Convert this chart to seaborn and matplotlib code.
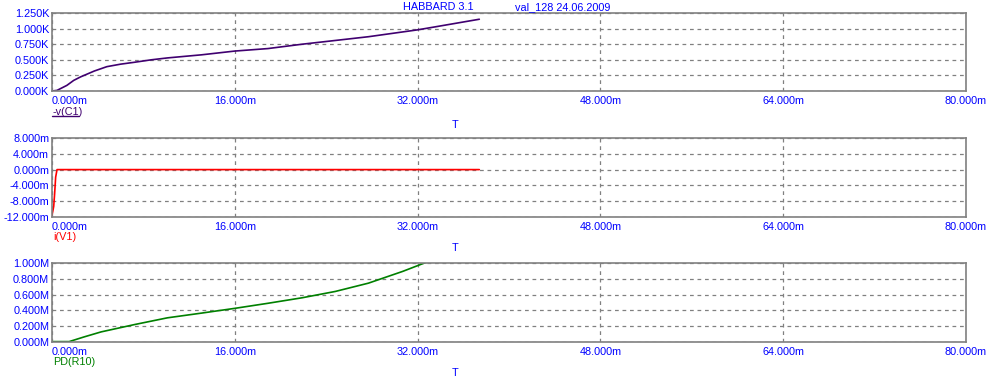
import numpy as np
import pandas as pd
import matplotlib
matplotlib.use("Agg")
import matplotlib.pyplot as plt
from matplotlib.lines import Line2D
import seaborn as sns

# ---- data (time in ms) ----
t_vc1 = [0.0, 0.44, 1.3, 1.9, 2.5, 3.7, 4.8, 6.0, 7.2, 8.7, 10.1, 13.1, 16.0, 18.9, 21.9, 24.8, 27.7, 32.0, 33.6, 37.4]
v_vc1 = [0.0, 0.01, 0.09, 0.17, 0.226, 0.32, 0.39, 0.43, 0.46, 0.50, 0.53, 0.58, 0.64, 0.68, 0.75, 0.81, 0.87, 0.98, 1.03, 1.15]  # K

t_iv1 = [0.0, 0.06, 0.15, 0.23, 0.32, 0.44, 37.4]
v_iv1 = [-11.5, -10.7, -9.3, -6.1, -1.9, 0.0, 0.0]  # m

t_pd = [0.0, 1.5, 2.8, 4.3, 7.2, 10.1, 13.1, 16.0, 18.9, 21.9, 24.8, 27.7, 30.7, 32.6, 33.0]
v_pd = [0.005, 0.005, 0.064, 0.128, 0.22, 0.306, 0.366, 0.426, 0.49, 0.56, 0.64, 0.745, 0.894, 1.0, 1.02]  # M

x_ticks = [0, 16, 32, 48, 64, 80]
x_ticklabels = ["0.000m", "16.000m", "32.000m", "48.000m", "64.000m", "80.000m"]
y1_ticks = [0, 0.25, 0.5, 0.75, 1.0, 1.25]
y1_labels = ["0.000K", "0.250K", "0.500K", "0.750K", "1.000K", "1.250K"]
y2_ticks = [-12, -8, -4, 0, 4, 8]
y2_labels = ["-12.000m", "-8.000m", "-4.000m", "0.000m", "4.000m", "8.000m"]
y3_ticks = [0, 0.2, 0.4, 0.6, 0.8, 1.0]
y3_labels = ["0.000M", "0.200M", "0.400M", "0.600M", "0.800M", "1.000M"]

sns.set_style("white")
plt.rcParams['font.family'] = ['Liberation Sans', 'DejaVu Sans']

W, H = 988, 385
fig = plt.figure(figsize=(W / 100, H / 100), dpi=100)

BLUE = "#0000ff"
GRAY = "#808080"
FS = 7.8

def px_axes(left, top, right, bottom):
    return fig.add_axes([left / W, 1 - bottom / H, (right - left) / W, (bottom - top) / H])

panels = [
    dict(box=(52, 13, 966, 91), t=t_vc1, v=v_vc1, color="#400070", yt=y1_ticks, yl=y1_labels,
         ylim=(0, 1.25), name="-v(C1)", name_y=112, T_y=125, underline=True),
    dict(box=(52, 138, 966, 217), t=t_iv1, v=v_iv1, color="#ff0000", yt=y2_ticks, yl=y2_labels,
         ylim=(-12, 8), name="i(V1)", name_y=237, T_y=248, underline=False),
    dict(box=(52, 263, 966, 342), t=t_pd, v=v_pd, color="#008000", yt=y3_ticks, yl=y3_labels,
         ylim=(0, 1.0), name="PD(R10)", name_y=362, T_y=373, underline=False),
]

for p in panels:
    ax = px_axes(*p["box"])
    df = pd.DataFrame({"t": p["t"], "v": p["v"]})
    sns.lineplot(data=df, x="t", y="v", ax=ax, color=p["color"], linewidth=1.2, sort=False)
    ax.set_xlim(0, 80)
    ax.set_ylim(*p["ylim"])
    ax.set_xticks(x_ticks)
    ax.set_xticklabels(x_ticklabels, color=BLUE, fontsize=FS)
    ax.get_xticklabels()[0].set_ha("left")
    ax.set_yticks(p["yt"])
    ax.set_yticklabels(p["yl"], color=BLUE, fontsize=FS)
    ax.tick_params(axis="y", length=0, pad=2)
    ax.tick_params(axis="x", length=0, pad=3.5)
    ax.set_xlabel("")
    ax.set_ylabel("")
    ax.grid(True, linestyle=(0, (3, 3)), color=GRAY, linewidth=0.9)
    for s in ax.spines.values():
        s.set_color(GRAY)
        s.set_linewidth(1.2)
        s.set_visible(True)
    ax.set_axisbelow(True)
    # series label
    fig.text(53 / W, 1 - p["name_y"] / H, p["name"], color=p["color"], fontsize=FS,
             ha="left", va="center")
    if p["underline"]:
        fig.add_artist(Line2D([52 / W, 79 / W], [1 - 116 / H, 1 - 116 / H],
                              color=p["color"], linewidth=1.0))
    fig.text(455 / W, 1 - p["T_y"] / H, "T", color=BLUE, fontsize=FS, ha="center", va="center")

fig.text(403 / W, 1 - 7 / H, "HABBARD 3.1", color=BLUE, fontsize=FS, ha="left", va="center")
fig.text(515 / W, 1 - 7 / H, "val_128 24.06.2009", color=BLUE, fontsize=FS, ha="left", va="center")

fig.savefig("out.png", dpi=100, facecolor="white")
